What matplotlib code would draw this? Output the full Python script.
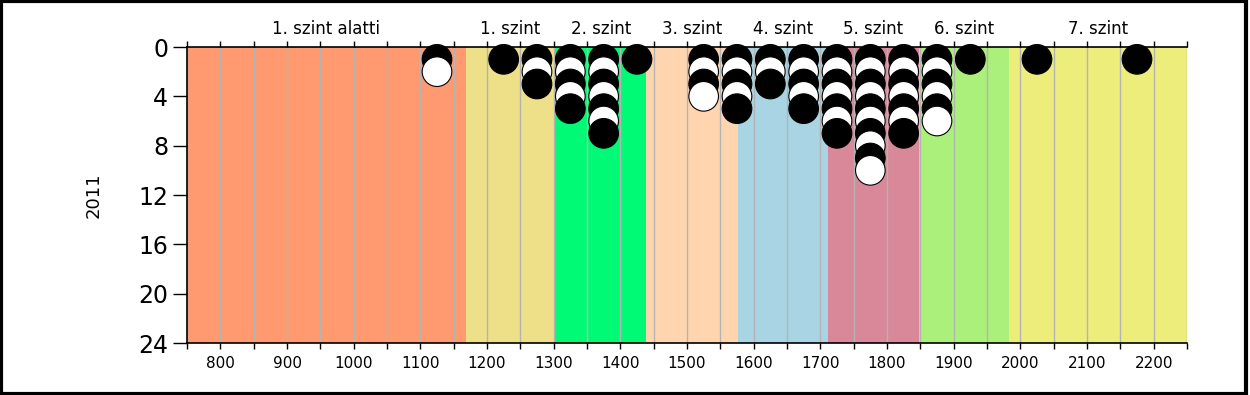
import matplotlib

matplotlib.use("Agg")

import matplotlib.pyplot as plt
from matplotlib.patches import Rectangle

# bin centres and number of students in each bin
bin_centers = [1125, 1225, 1275, 1325, 1375, 1425, 1525, 1575, 1625,
               1675, 1725, 1775, 1825, 1875, 1925, 2025, 2175]
counts = [2, 1, 3, 5, 7, 1, 4, 5, 3, 5, 7, 10, 7, 6, 1, 1, 1]

# level bands
level_names = ["1. szint alatti", "1. szint", "2. szint", "3. szint",
               "4. szint", "5. szint", "6. szint", "7. szint"]
level_edges = [750, 1168, 1302, 1439, 1576, 1711, 1848, 1983, 2250]
level_colors = ["#FF9A70", "#EEE088", "#00FA75", "#FFD5B0",
                "#A8D4E4", "#D98899", "#ABF07A", "#EDED7B"]

y_label = "2011"

fig = plt.figure(figsize=(12.5, 3.95), dpi=100)
ax = fig.add_axes([0.1496, 0.1316, 0.8, 0.7494])

for i, name in enumerate(level_names):
    left, right = level_edges[i], level_edges[i + 1]
    ax.axvspan(left, right, color=level_colors[i], lw=0, zorder=0)
    ax.text(
        (left + right) / 2,
        -0.75,
        name,
        ha="center",
        va="bottom",
        fontsize=12,
    )

for x in range(750, 2251, 50):
    ax.axvline(x, color="#B4B4B4", lw=1, zorder=1)

xs, ys, colors = [], [], []
for x, n in zip(bin_centers, counts):
    for k in range(1, n + 1):
        xs.append(x)
        ys.append(k)
        colors.append("black" if k % 2 == 1 else "white")

ax.scatter(xs, ys, s=455, c=colors, edgecolors="black", linewidths=0.8,
           zorder=3, clip_on=False)

ax.set_xlim(750, 2250)
ax.set_ylim(24, 0)
ax.set_yticks(range(0, 25, 4))
ax.set_xticks(range(800, 2201, 100))
ax.set_xticks(range(750, 2251, 100), minor=True)

ax.tick_params(axis="y", labelsize=17, length=10, width=1, direction="out")
ax.tick_params(axis="x", which="both", labelsize=11, length=4, width=1,
               top=True, direction="out", pad=5)

ax.set_ylabel(y_label, fontsize=13, labelpad=26)

ax.spines["right"].set_visible(False)
for side in ["left", "bottom", "top"]:
    ax.spines[side].set_linewidth(1.2)
    ax.spines[side].set_zorder(4)

fig.patches.append(
    Rectangle((0.001, 0.003), 0.996, 0.994, transform=fig.transFigure,
              fill=False, edgecolor="black", linewidth=3)
)

plt.savefig("out.png", dpi=100)
plt.close()
